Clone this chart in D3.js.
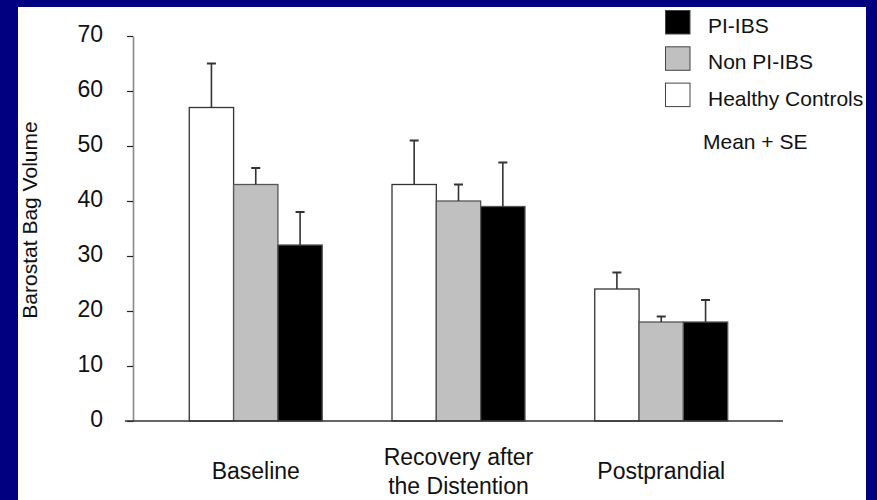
<!DOCTYPE html>
<html>
<head>
<meta charset="utf-8">
<script src="https://cdn.jsdelivr.net/npm/d3@7"></script>
<style>
  html, body { margin: 0; padding: 0; background: #000080; }
  svg { display: block; font-family: "Liberation Sans", Arial, sans-serif; }
</style>
</head>
<body>
<svg id="chart" width="877" height="500"></svg>
<script>
// ---- data ----
const categories = ["Baseline", "Recovery after\nthe Distention", "Postprandial"];
const seriesNames = ["Healthy Controls", "Non PI-IBS", "PI-IBS"];
const healthyMean = [57, 43, 24];
const healthySE   = [8, 8, 3];
const nonPiMean   = [43, 40, 18];
const nonPiSE     = [3, 3, 1];
const piMean      = [32, 39, 18];
const piSE        = [6, 8, 4];
const yTicks = [0, 10, 20, 30, 40, 50, 60, 70];
const legendOrder = ["PI-IBS", "Non PI-IBS", "Healthy Controls"];
const seriesColors = {"Healthy Controls": "#ffffff", "Non PI-IBS": "#c0c0c0", "PI-IBS": "#000000"};

const means = {"Healthy Controls": healthyMean, "Non PI-IBS": nonPiMean, "PI-IBS": piMean};
const ses = {"Healthy Controls": healthySE, "Non PI-IBS": nonPiSE, "PI-IBS": piSE};

const svg = d3.select("#chart");

// white panel
svg.append("rect").attr("x", 18).attr("y", 7).attr("width", 848).attr("height", 493).attr("fill", "#ffffff");

// scales
const y = d3.scaleLinear().domain([0, 70]).range([421, 36]);
const x0 = d3.scaleBand().domain(categories).range([125, 792]).paddingInner(0.344).paddingOuter(0.317);
const x1 = d3.scaleBand().domain(seriesNames).range([0, x0.bandwidth()]).padding(0);

// y axis
const yAxis = svg.append("g").attr("transform", "translate(133,0)")
  .call(d3.axisLeft(y).tickValues(yTicks).tickSize(6).tickSizeOuter(0).tickPadding(24));
yAxis.select(".domain").attr("stroke", "#8a8a8a").attr("stroke-width", 1.6);
yAxis.selectAll(".tick line").attr("stroke", "#222").attr("stroke-width", 1.2);
yAxis.selectAll(".tick text").attr("font-size", 23).attr("fill", "#111").attr("dy", "0.24em")
  .attr("font-family", "Liberation Sans, Arial, sans-serif");

// bars
const rows = [];
categories.forEach((c, i) => seriesNames.forEach(s => rows.push({cat: c, s: s, v: means[s][i], e: ses[s][i]})));

const g = svg.append("g");
g.selectAll("rect.bar").data(rows).join("rect")
  .attr("class", "bar")
  .attr("x", d => x0(d.cat) + x1(d.s))
  .attr("y", d => y(d.v))
  .attr("width", x1.bandwidth())
  .attr("height", d => y(0) - y(d.v))
  .attr("fill", d => seriesColors[d.s])
  .attr("stroke", d => d.s === "Healthy Controls" ? "#333" : "#555")
  .attr("stroke-width", 1.3);

// error bars
g.selectAll("line.err").data(rows).join("line")
  .attr("class", "err")
  .attr("x1", d => x0(d.cat) + x1(d.s) + x1.bandwidth() / 2)
  .attr("x2", d => x0(d.cat) + x1(d.s) + x1.bandwidth() / 2)
  .attr("y1", d => y(d.v))
  .attr("y2", d => y(d.v + d.e))
  .attr("stroke", "#333").attr("stroke-width", 1.6);
g.selectAll("line.cap").data(rows).join("line")
  .attr("class", "cap")
  .attr("x1", d => x0(d.cat) + x1(d.s) + x1.bandwidth() / 2 - 4.5)
  .attr("x2", d => x0(d.cat) + x1(d.s) + x1.bandwidth() / 2 + 4.5)
  .attr("y1", d => y(d.v + d.e))
  .attr("y2", d => y(d.v + d.e))
  .attr("stroke", "#333").attr("stroke-width", 2);

// x axis line
svg.append("line").attr("x1", 125).attr("x2", 783).attr("y1", y(0)).attr("y2", y(0))
  .attr("stroke", "#333").attr("stroke-width", 1.5);

// x labels
categories.forEach(c => {
  const lines = c.split("\n");
  const cx = x0(c) + x0.bandwidth() / 2;
  const t = svg.append("text").attr("text-anchor", "middle").attr("font-size", 23).attr("fill", "#111");
  if (lines.length === 1) {
    t.append("tspan").attr("x", cx).attr("y", 479).text(lines[0]);
  } else {
    lines.forEach((l, k) => t.append("tspan").attr("x", cx).attr("y", 464.5 + k * 29.5).text(l));
  }
});

// y title
svg.append("text").attr("transform", "translate(36.5,220) rotate(-90)")
  .attr("text-anchor", "middle").attr("font-size", 21).attr("fill", "#111")
  .text("Barostat Bag Volume");

// legend
const lg = svg.append("g");
legendOrder.forEach((s, i) => {
  lg.append("rect").attr("x", 665.5).attr("y", 10.5 + i * 36.3).attr("width", 24.5).attr("height", 23.5)
    .attr("fill", seriesColors[s]).attr("stroke", "#444").attr("stroke-width", 1);
  lg.append("text").attr("x", 708).attr("y", 32.7 + i * 36.5).attr("font-size", 21).attr("fill", "#111").text(s);
});
lg.append("text").attr("x", 703).attr("y", 149).attr("font-size", 21).attr("fill", "#111").text("Mean + SE");
</script>
</body>
</html>
